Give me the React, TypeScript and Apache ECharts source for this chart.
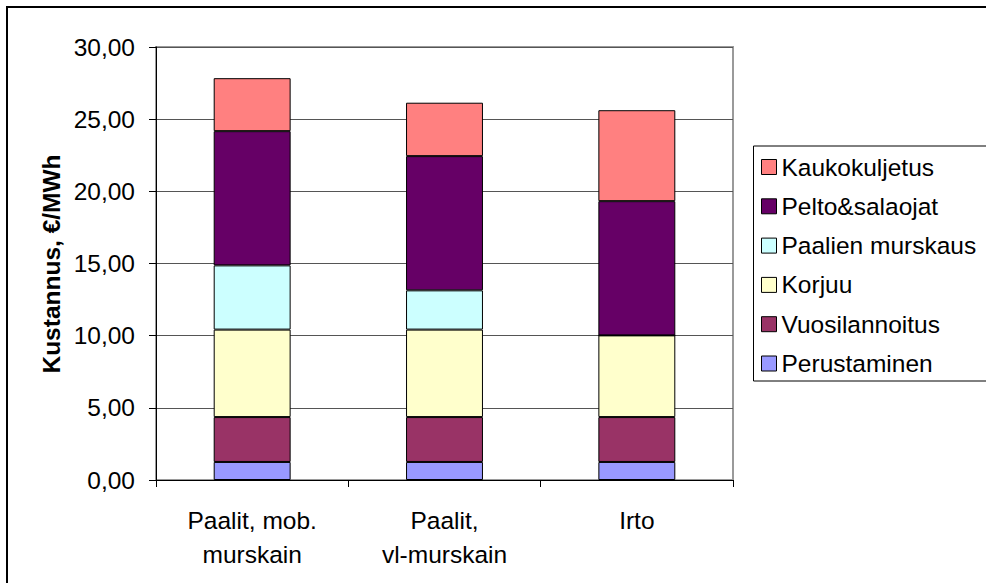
import React, { useEffect, useRef } from "react";
import * as echarts from "echarts";

const categories = ["Paalit, mob.\nmurskain", "Paalit,\nvl-murskain", "Irto"];
const perustaminen = [1.25, 1.25, 1.25];
const vuosilannoitus = [3.11, 3.11, 3.11];
const korjuu = [6.06, 6.06, 5.66];
const paalienMurskaus = [4.45, 2.72, 0];
const peltoSalaojat = [9.3, 9.3, 9.3];
const kaukokuljetus = [3.67, 3.7, 6.3];

const seriesNames = [
  "Perustaminen",
  "Vuosilannoitus",
  "Korjuu",
  "Paalien murskaus",
  "Pelto&salaojat",
  "Kaukokuljetus",
];
const seriesValues = [perustaminen, vuosilannoitus, korjuu, paalienMurskaus, peltoSalaojat, kaukokuljetus];
const seriesColors = ["#9999FF", "#993366", "#FFFFCC", "#CCFFFF", "#660066", "#FF8080"];

const yAxisTitle = "Kustannus, €/MWh";
const FONT = "'Liberation Sans', Arial, sans-serif";

export default function App() {
  const ref = useRef<HTMLDivElement>(null);
  useEffect(() => {
    if (!ref.current) return;
    const chart = echarts.init(ref.current, null, { renderer: "svg" });
    chart.setOption({
      animation: false,
      backgroundColor: "#fff",
      textStyle: { fontFamily: FONT },
      grid: {
        left: 156,
        top: 47,
        width: 577,
        height: 433,
        show: true,
        borderColor: "#9a9a9a",
        borderWidth: 2,
        backgroundColor: "transparent",
      },
      legend: {
        orient: "vertical",
        left: 761,
        top: 154.5,
        padding: 0,
        itemWidth: 15,
        itemHeight: 15,
        itemGap: 14.3,
        icon: "rect",
        data: [...seriesNames].reverse(),
        itemStyle: { borderColor: "#000", borderWidth: 1 },
        textStyle: { fontSize: 24.5, color: "#000", fontFamily: FONT, lineHeight: 25 },
        selectedMode: false,
      },
      xAxis: {
        type: "category",
        data: categories,
        axisLine: { lineStyle: { color: "#000", width: 1 } },
        axisTick: { show: true, length: 7, lineStyle: { color: "#000" } },
        axisLabel: {
          color: "#000",
          fontSize: 24.5,
          fontFamily: FONT,
          lineHeight: 34,
          margin: 23,
          interval: 0,
        },
      },
      yAxis: {
        type: "value",
        min: 0,
        max: 30,
        interval: 5,
        axisLine: { show: true, lineStyle: { color: "#000", width: 1 } },
        axisTick: { show: true, length: 7, lineStyle: { color: "#000" } },
        axisLabel: {
          color: "#000",
          fontSize: 24.5,
          fontFamily: FONT,
          margin: 21,
          formatter: (v: number) => v.toFixed(2).replace(".", ","),
        },
        splitLine: { show: true, lineStyle: { color: "#555", width: 1 } },
      },
      series: seriesNames.map((name, i) => ({
        name,
        type: "bar",
        stack: "total",
        barWidth: "40%",
        data: seriesValues[i],
        itemStyle: { color: seriesColors[i], borderColor: "#000", borderWidth: 1 },
      })),
      graphic: [
        {
          type: "rect",
          shape: { x: 7, y: 7, width: 1200, height: 1200 },
          style: { fill: "none", stroke: "#000", lineWidth: 2 },
          silent: true,
        },
        {
          type: "rect",
          shape: { x: 753.5, y: 146, width: 400, height: 235 },
          style: { fill: "none", stroke: "#000", lineWidth: 1 },
          silent: true,
        },
        {
          type: "text",
          x: 51,
          y: 264,
          rotation: Math.PI / 2,
          style: {
            text: yAxisTitle,
            fontSize: 24.5,
            fontWeight: "bold",
            fontFamily: FONT,
            fill: "#000",
            align: "center",
            verticalAlign: "middle",
          },
        },
      ],
    });
    return () => chart.dispose();
  }, []);
  return (
    <div
      ref={ref}
      style={{ position: "fixed", left: 0, top: 0, width: 986, height: 583 }}
    />
  );
}
